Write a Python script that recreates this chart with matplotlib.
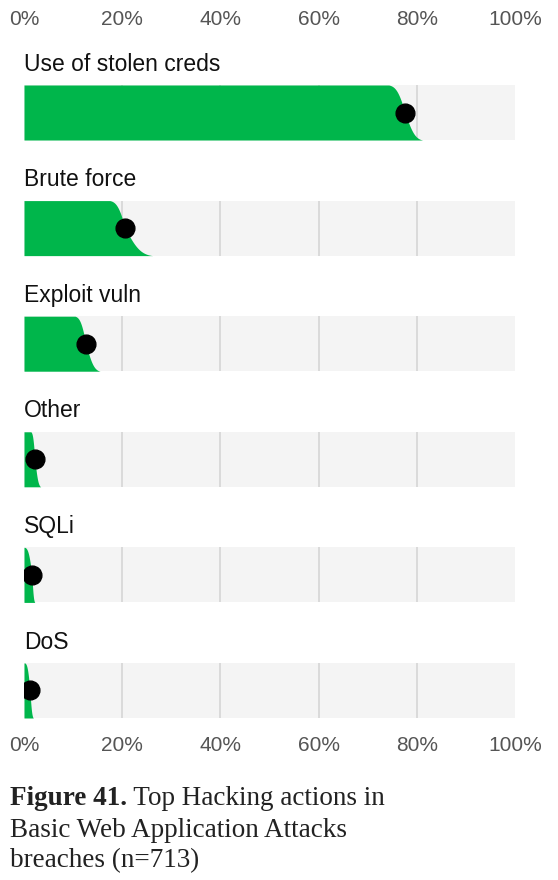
import numpy as np
import matplotlib
matplotlib.use("Agg")
import matplotlib.pyplot as plt
from statistics import NormalDist

plt.rcParams["font.family"] = ["Liberation Sans", "DejaVu Sans"]

# 데이터
labels = ["Use of stolen creds", "Brute force", "Exploit vuln", "Other", "SQLi", "DoS"]
estimate = [0.776, 0.206, 0.126, 0.022, 0.016, 0.012]
lower = [0.743, 0.175, 0.104, 0.014, 0.002, 0.002]
upper = [0.812, 0.262, 0.155, 0.034, 0.022, 0.019]
ticks = [0, 0.2, 0.4, 0.6, 0.8, 1.0]
tick_labels = ["0%", "20%", "40%", "60%", "80%", "100%"]

GREEN = "#00b64b"
BG = "#f4f4f4"
GRID = "#dadada"
HALF = 0.238  # 막대 반높이 (행 단위)

fig = plt.figure(figsize=(5.58, 8.8), dpi=100)
ax = fig.add_axes([24 / 558, 1 - 718 / 880, 491 / 558, 633 / 880])

n = len(labels)
ax.set_xlim(0, 1)
ax.set_ylim(n - 1 + HALF, -HALF)

nd = NormalDist()
p = np.linspace(0.01, 0.99, 200)
z = np.array([nd.inv_cdf(v) for v in p])
zmax = z[-1]

for i, lab in enumerate(labels):
    top, bot = i - HALF, i + HALF
    # 배경 막대
    ax.fill_between([0, 1], top, bot, color=BG, lw=0, zorder=1)
    ax.vlines([0.2, 0.4, 0.6, 0.8], top, bot, color=GRID, lw=1.4, zorder=2)

    # 분포 모양의 초록 영역
    s_lo = (estimate[i] - lower[i]) / zmax
    s_hi = (upper[i] - estimate[i]) / zmax
    edge = estimate[i] + np.where(z < 0, z * s_lo, z * s_hi)
    yy = top + (p - p[0]) / (p[-1] - p[0]) * (bot - top)
    ax.fill_betweenx(yy, 0, edge, color=GREEN, lw=0, zorder=3)

    ax.plot(estimate[i], i, "o", color="black", markersize=13.5, zorder=4)

    ax.text(0, top - 0.18, lab, ha="left", va="center", fontsize=16.5,
            color="#111111")

for s in ax.spines.values():
    s.set_visible(False)
ax.set_yticks([])
ax.set_xticks(ticks)
ax.set_xticklabels(tick_labels)
ax.tick_params(axis="x", length=0, pad=13, labelsize=15, labelcolor="#555555")

top_ax = ax.secondary_xaxis("top")
top_ax.set_xticks(ticks)
top_ax.set_xticklabels(tick_labels)
top_ax.tick_params(axis="x", length=0, pad=40, labelsize=15, labelcolor="#555555")
for s in top_ax.spines.values():
    s.set_visible(False)

# 캡션
serif = ["Liberation Serif", "DejaVu Serif"]
t1 = fig.text(10 / 558, 1 - 805 / 880, "Figure 41.", family=serif,
              fontweight="bold", fontsize=19.5, va="baseline", color="#222222")
ax.annotate(" Top Hacking actions in", xy=(1, 0), xycoords=t1,
            va="bottom", ha="left", family=serif, fontsize=19.5,
            color="#222222", annotation_clip=False)
fig.text(10 / 558, 1 - 836.5 / 880, "Basic Web Application Attacks", family=serif,
         fontsize=19.5, va="baseline", color="#222222")
fig.text(10 / 558, 1 - 867 / 880, "breaches (n=713)", family=serif,
         fontsize=19.5, va="baseline", color="#222222")

fig.savefig("out.png", dpi=100)
